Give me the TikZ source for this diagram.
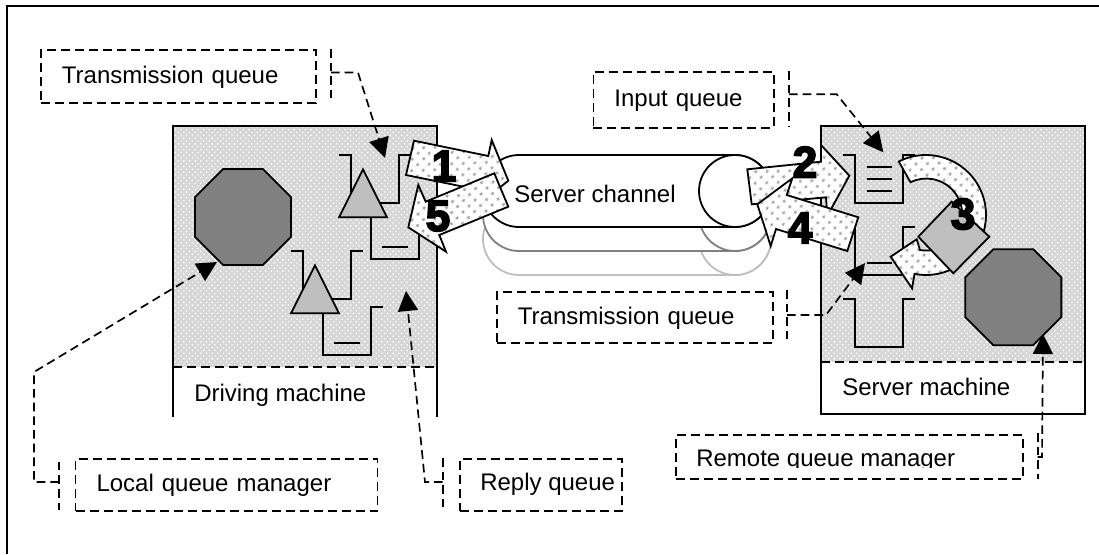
\documentclass[tikz,border=0pt]{standalone}
\usepackage{fontspec}
\setmainfont{Liberation Sans}
\newfontfamily\numfont[FakeBold=4]{Liberation Sans Bold}
\usetikzlibrary{arrows.meta,shapes.geometric,patterns.meta}

\begin{document}
\begin{tikzpicture}[
        x=0.75pt,
        y=-0.75pt,
        every node/.style={font=\fontsize{18}{20}\selectfont},
        framepen/.style={line width=1.7pt},
        pen/.style={line width=1.35pt},
        dashpen/.style={
            line width=1.35pt,
            dash pattern=on 6.75pt off 3.75pt,
        },
        leader/.style={
            line width=1.25pt,
            dash pattern=on 6.5pt off 3.75pt,
            -{Triangle[length=15pt,width=15pt]},
        },
        accent/.style={
            line width=1.25pt,
            dash pattern=on 6.5pt off 3.75pt,
        },
        labelbox/.style={
            dashpen,
            draw=black,
            anchor=north west,
            align=left,
            inner xsep=15.75pt,
            inner ysep=0pt,
            text height=13.5pt,
            text depth=3pt,
        },
        machine/.style={
            preaction={fill=black!16},
            pattern={Dots[radius=0.7pt,distance=3pt,angle=45]},
            pattern color=white,
        },
        blockarrow/.style={
            pen,
            draw=black,
            preaction={fill=white},
            pattern={Dots[radius=1.3pt,distance=6.5pt,angle=45]},
            pattern color=black!35,
        },
        qmgr/.style={
            pen,
            draw=black,
            fill=black!50,
            regular polygon,
            regular polygon sides=8,
            minimum size=78pt,
            inner sep=0pt,
        },
        wedge/.style={
            pen,
            draw=black,
            fill=black!25,
        },
        tag/.style={
            inner sep=0pt,
            anchor=base west,
        },
        step number/.style={
            inner sep=0pt,
            font=\numfont\fontsize{33}{33}\selectfont,
        },
        pics/bucket/.style={
            code={
                \draw[pen] (-12,0) -- (0,0) -- (0,48) -- (48,48) -- (48,0) -- (60,0);
            },
        },
    ]
        \useasboundingbox (0,0) rectangle (1099,554);
        \draw[framepen] (7,554) -- (7,6) -- (1099,6);

        \path[machine] (173,126) rectangle (437,367);
        \draw[framepen] (173,417) -- (173,126) -- (437,126) -- (437,417);
        \draw[dashpen] (173,367) -- (437,367);
        \node[tag] (driving) at (194,401.7) {Driving machine};

        \path[machine] (821,126) rectangle (1085,362);
        \draw[framepen] (821,126) rectangle (1085,414);
        \draw[dashpen] (821,362) -- (1085,362);
        \node[tag] (server) at (842,395) {Server machine};

        \node[qmgr] (localqm) at (243,217) {};
        \node[qmgr] (remoteqm) at (1013.3,297.2) {};

        \foreach \gx/\gy in {351/155,303/251} {
            \pic at (\gx,\gy) {bucket};
            \pic at (\gx+20,\gy+56) {bucket};
            \draw[pen] (\gx+31.3,\gy+92) -- ++(25.4,0);
            \draw[wedge] (\gx+12,\gy+14.3) -- (\gx+36,\gy+62.3) -- (\gx-12,\gy+62.3) -- cycle;
        }

        \pic at (855,155) {bucket};
        \foreach \ly in {167.3,179.3,191} {
            \draw[pen] (866.7,\ly) -- ++(25,0);
        }
        \pic at (855,227.3) {bucket};
        \draw[pen] (866.7,263.3) -- ++(25,0);
        \pic at (855,299) {bucket};

        \foreach \dy/\shade in {48/black!25,24/black!50,0/black} {
            \draw[pen,draw=\shade,fill=white] (735,155+\dy) -- (519,155+\dy)
                arc[start angle=-90,end angle=-270,radius=36] -- (735,227+\dy)
                arc[start angle=90,end angle=-90,radius=36] -- cycle;
            \draw[pen,draw=\shade,fill=white] (735,191+\dy) circle[radius=36];
        }
        \node[tag] (channel) at (514,202.7) {Server channel};

        \path[blockarrow] (414,140.7) -- (488.3,156) -- (491.7,140) -- (508.3,180.7)
            -- (477.7,205.3) -- (479.7,190) -- (406,175) -- cycle;
        \path[blockarrow] (494.3,173.3) -- (425.7,201.7) -- (418.3,185) -- (408.3,227.3)
            -- (446,251.7) -- (439.3,235) -- (508.3,206.7) -- cycle;
        \path[blockarrow] (747.3,169.3) -- (821,161.7) -- (821,145) -- (849.3,175.7)
            -- (827.3,216) -- (826,197.3) -- (751.7,204.3) -- cycle;
        \path[blockarrow] (858.3,217.3) -- (786.7,195) -- (792.3,178.3) -- (757.3,204.3)
            -- (770.7,246) -- (776,229) -- (847.3,251) -- cycle;
        \path[blockarrow] (926,215) ++(-117:60) arc[start angle=-117,end angle=101,radius=60]
            -- (912,288.3) -- (890.7,256.7) -- (916.7,239.3) -- (920,250)
            arc[start angle=100,end angle=-116,radius=36] -- cycle;
        \draw[wedge] (951.7,201.7) -- (989.3,236.7) -- (953.3,273.3) -- (918.3,236.7) -- cycle;

        \node[step number] (one) at (444,166) {1};
        \node[step number] (five) at (438,216) {5};
        \node[step number] (two) at (805,162) {2};
        \node[step number] (four) at (800,228) {4};
        \node[step number] (three) at (963,214) {3};

        \node[labelbox,text width=174.75pt,minimum height=39.75pt] (txleft) at (40,49) {Transmission queue};
        \node[labelbox,text width=103.9pt,minimum height=42pt] (input) at (592.5,71) {Input queue};
        \node[labelbox,text width=175.5pt,minimum height=38.25pt] (txright) at (496,291) {Transmission queue};
        \node[labelbox,text width=195pt,minimum height=39pt] (localbox) at (74.6,458) {Local queue manager};
        \node[labelbox,text width=90pt,minimum height=39pt] (replybox) at (459,458) {};
        \node[tag] (replytext) at (480,490) {Reply queue};
        \node[labelbox,text width=228.75pt,minimum height=33pt] (remotebox) at (675,434) {};
        \begin{scope}
            \clip (675,434) rectangle (1022,467.5);
            \node[tag] (remotetext) at (696,466.7) {Remote queue manager};
        \end{scope}

        \coordinate (txlefttip) at (385,158);
        \coordinate (inputtip) at (883.3,152.3);
        \coordinate (txrighttip) at (865,263);
        \coordinate (localtip) at (217,262);
        \coordinate (replytip) at (406,291);
        \coordinate (remotetip) at (1043,334);

        \draw[accent] (331,49) -- (331,98);
        \draw[leader] (331,72.5) -- (358,72.5) -- (txlefttip);
        \draw[accent] (789,71) -- (789,127);
        \draw[leader] (789,94.3) -- (836.7,94.3) -- (inputtip);
        \draw[accent] (787,290) -- (787,339);
        \draw[leader] (787,315) -- (826,315) -- (txrighttip);
        \draw[accent] (59,461.7) -- (59,510);
        \draw[leader] (59,482) -- (34,482) -- (34,372) -- (localtip);
        \draw[accent] (442.7,458) -- (442.7,507);
        \draw[leader] (442.7,482) -- (425,482) -- (replytip);
        \draw[accent] (1037.7,433) -- (1037.7,479);
        \draw[leader] (1037.7,457) -- (1042,457) -- (remotetip);
    \end{tikzpicture}
\end{document}
